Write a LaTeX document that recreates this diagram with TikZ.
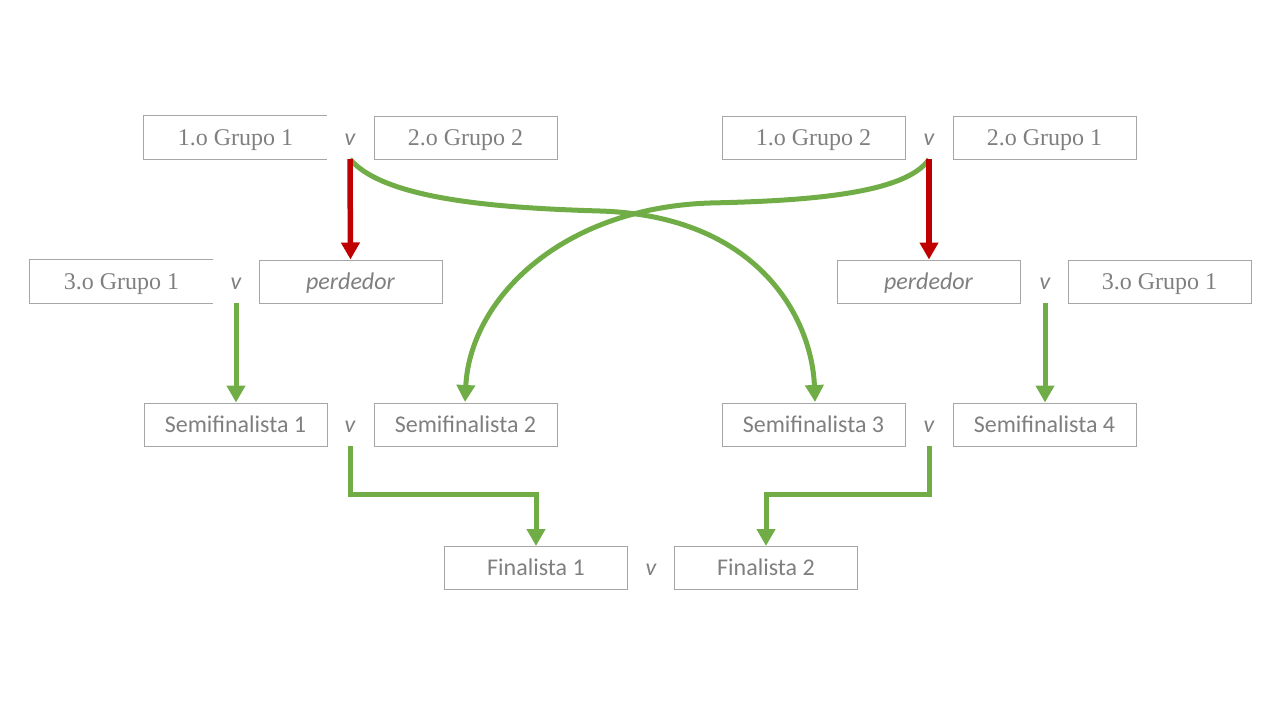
\documentclass[tikz,border=0pt]{standalone}
\usepackage{fontspec}
\setmainfont{Liberation Serif}
\newfontfamily\calibri{Carlito}
\usetikzlibrary{arrows.meta,calc}
\definecolor{txtgray}{HTML}{7F7F7F}
\definecolor{bordergray}{HTML}{A6A6A6}
\definecolor{arrred}{HTML}{C00000}
\definecolor{arrgreen}{HTML}{70AD47}
\tikzset{
  boxbase/.style={minimum width=183pt, minimum height=43pt, inner sep=0pt, text height=18pt, text depth=3pt, text=txtgray, font=\fontsize{24}{28}\selectfont},
  sbox/.style={boxbase, draw=bordergray, line width=1pt},
  openbox/.style={boxbase},
  serifbox/.style={sbox},
  sansbox/.style={sbox, font=\calibri\fontsize{24}{28}\selectfont},
  italbox/.style={sbox, font=\calibri\itshape\fontsize{24}{28}\selectfont},
  vs/.style={minimum height=43pt, inner sep=0pt, text height=18pt, text depth=3pt, text=txtgray, font=\calibri\itshape\fontsize{24}{28}\selectfont},
  redarr/.style={draw=arrred, line width=5.5pt, -{Triangle[length=17pt,width=18pt]}},
  greenarr/.style={draw=arrgreen, line width=5pt, -{Triangle[length=17pt,width=18pt]}},
}
\begin{document}
\begin{tikzpicture}[x=1pt,y=-1pt]
\useasboundingbox (0,0) rectangle (1280,720);
% Row 1
\node[openbox] (A) at (235.5,137.5) {1.o Grupo 1};
\draw[draw=bordergray, line width=1pt] (A.north east) -- (A.north west) -- (A.south west) -- (A.south east);
\node[vs] (v1) at (350,137.5) {v};
\node[serifbox] (B) at (465.5,137.5) {2.o Grupo 2};
\node[serifbox] (C) at (813.5,137.5) {1.o Grupo 2};
\node[vs] (v2) at (929,137.5) {v};
\node[serifbox] (D) at (1044.5,137.5) {2.o Grupo 1};
% Row 2
\node[openbox] (L3) at (121.5,281.5) {3.o Grupo 1};
\draw[draw=bordergray, line width=1pt] (L3.north east) -- (L3.north west) -- (L3.south west) -- (L3.south east);
\node[vs] (v3) at (236,281.5) {v};
\node[italbox] (P1) at (350.5,281.5) {perdedor};
\node[italbox] (P2) at (928.5,281.5) {perdedor};
\node[vs] (v4) at (1045,281.5) {v};
\node[serifbox] (R3) at (1159.5,281.5) {3.o Grupo 1};
% Row 3
\node[sansbox] (S1) at (235.5,424.5) {Semifinalista 1};
\node[vs] (v5) at (350,424.5) {v};
\node[sansbox] (S2) at (465.5,424.5) {Semifinalista 2};
\node[sansbox] (S3) at (813.5,424.5) {Semifinalista 3};
\node[vs] (v6) at (929,424.5) {v};
\node[sansbox] (S4) at (1044.5,424.5) {Semifinalista 4};
% Row 4
\node[sansbox] (F1) at (536,568) {Finalista 1};
\node[vs] (v7) at (651,568) {v};
\node[sansbox] (F2) at (766,568) {Finalista 2};
% curve end points
\coordinate (e3) at (815,402);
\coordinate (e2) at (465,402);
% Green curves
\draw[greenarr] (v1.south) .. controls (385,200) and (500,208) .. (600,211) .. controls (760,216) and (812,320) .. (e3);
\draw[greenarr] (v2.south) .. controls (905,195) and (800,201) .. (710,203) .. controls (560,208) and (470,300) .. (e2);
% Red arrows
\draw[redarr] (v1.south) -- (P1.north);
\draw[redarr] (v2.south) -- (v2.south |- P2.north);
% Green straight
\draw[greenarr] (v3.south) -- (v3.south |- S1.north);
\draw[greenarr] (v4.south) -- (v4.south |- S4.north);
% Elbows
\draw[greenarr] (v5.south) -- ++(0,48) -| (F1.north);
\draw[greenarr] (v6.south) -- ++(0,48) -| (F2.north);
\end{tikzpicture}
\end{document}
